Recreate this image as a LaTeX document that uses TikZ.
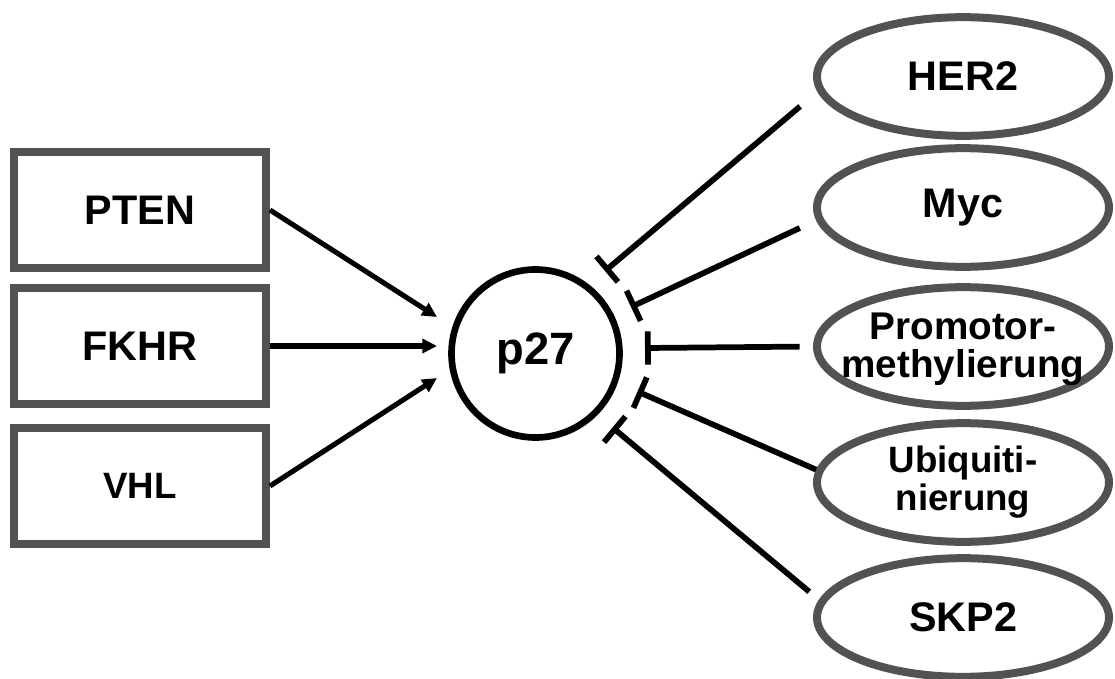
\documentclass[tikz,border=0pt]{standalone}
\usepackage{fontspec}
\setmainfont{Liberation Sans}
\usetikzlibrary{arrows.meta,shapes.geometric}
\definecolor{rimgray}{HTML}{525252}
\tikzset{
  gene/.style={draw=rimgray, line width=6pt, minimum width=189pt, minimum height=87pt, inner sep=0pt, font=\fontsize{31}{33}\selectfont\bfseries},
  factor/.style={ellipse, draw=rimgray, line width=6pt, minimum width=219pt, minimum height=89pt, inner sep=0pt, align=center, font=\fontsize{31}{33}\selectfont\bfseries},
  act/.style={line width=3.8pt, -{Triangle[length=11pt, width=10.5pt]}},
  inhib/.style={line width=4.3pt, -{Bar[width=25pt]}}
}
\begin{document}
\begin{tikzpicture}[x=0.75pt, y=-0.75pt]
		\useasboundingbox (0,0) rectangle (1115,679);

		% p27 in the middle
		\node[circle, draw, line width=5pt, minimum size=126pt, inner sep=0pt,
		      font=\fontsize{34}{36}\selectfont\bfseries] (p27) at (535.5,353.5) {p27};

		% activators
		\node[gene] (pten) at (140,210) {PTEN};
		\node[gene] (fkhr) at (140,346) {FKHR};
		\node[gene, font=\fontsize{27.5}{30}\selectfont\bfseries] (vhl) at (140,486) {VHL};

		\coordinate (inPTEN) at (437,317);
		\coordinate (inFKHR) at (437,346);
		\coordinate (inVHL) at (437,378);

		\draw[act] (pten.east) -- (inPTEN);
		\draw[act] (fkhr.east) -- (inFKHR);
		\draw[act] (vhl.east) -- (inVHL);

		% inhibitors
		\node[factor] (her2) at (963,76.5) {HER2};
		\node[factor] (myc) at (963,207.5) {Myc};
		\node[factor, label={[align=center, font=\fontsize{29}{28.5}\selectfont\bfseries, yshift=-2pt]center:Promotor-\\methylierung}] (prom) at (963,346.5) {};
		\node[factor, font=\fontsize{27.5}{32}\selectfont\bfseries] (ubiq) at (963,482.5) {\raisebox{-4pt}{\shortstack{Ubiquiti-\\nierung}}};
		\node[factor] (skp2) at (963,617.5) {SKP2};

		\coordinate (tHER) at (605,271);
		\coordinate (tMYC) at (631,307);
		\coordinate (tPROM) at (645,348);
		\coordinate (tUBIQ) at (637.5,391.5);
		\coordinate (tSKP) at (612.5,427.5);

		\draw[inhib, shorten <=17pt] (her2.186) -- (tHER);
		\draw[inhib, shorten <=13.5pt] (myc.185) -- (tMYC);
		\draw[inhib, shorten <=10pt] (prom.180) -- (tPROM);
		\draw[inhib] (ubiq.175) -- (tUBIQ);
		\draw[inhib, shorten <=9.5pt] (skp2.173) -- (tSKP);

	\end{tikzpicture}
\end{document}
